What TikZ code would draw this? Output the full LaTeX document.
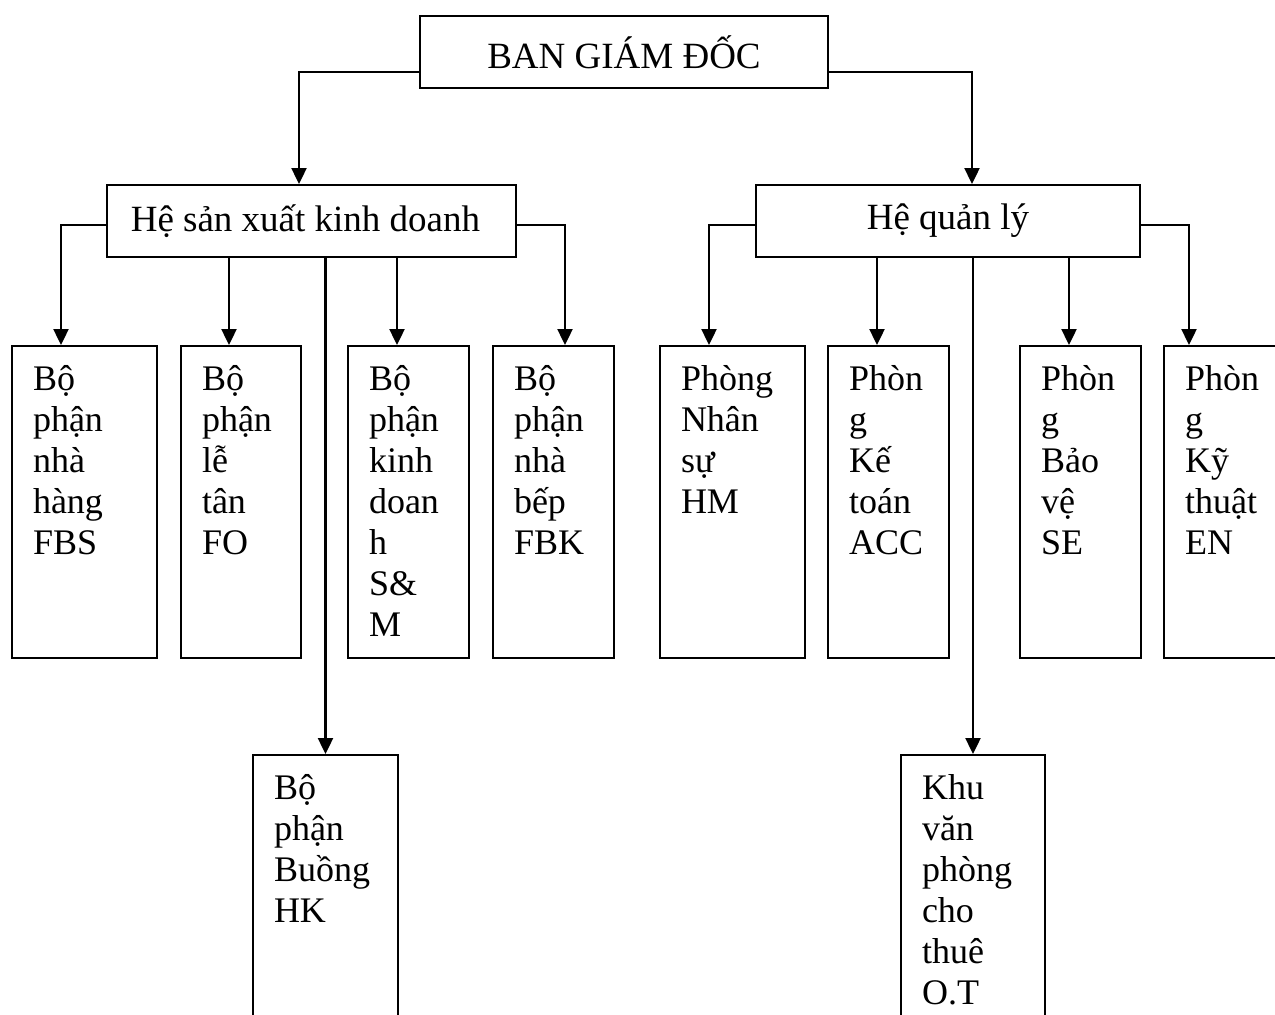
\documentclass[tikz,border=0pt]{standalone}
\usepackage{fontspec}
\setmainfont{Liberation Serif}
\usepackage{tikz}
\usetikzlibrary{arrows.meta,positioning}

\begin{document}
\begin{tikzpicture}[x=1pt, y=-1pt, line join=miter]
      \tikzstyle{head}=[rectangle,draw,line width=2pt,inner sep=0pt,minimum height=72pt,font=\fontsize{37}{41}\selectfont]
      \tikzstyle{unit}=[rectangle,draw,line width=2pt,anchor=north west,align=left,inner xsep=21pt,inner ysep=0pt,text height=44pt,text depth=268pt,font=\fontsize{36}{41}\selectfont]
      \tikzstyle{wide}=[unit,text width=103pt]
      \tikzstyle{narrow}=[unit,text width=79pt]
      \tikzstyle{arr}=[line width=2.4pt,-{Triangle[width=15pt,length=16pt]}]
      \useasboundingbox (0,0) rectangle (1275,1015);

      \node[head,minimum width=408pt] (bgd) at (624,52) {BAN GIÁM ĐỐC};
      \node[head,minimum width=409pt] (hsx) at (311.5,221) {\hspace{-12pt}Hệ sản xuất kinh doanh};
      \node[head,minimum width=384pt] (hql) at (948,221) {Hệ quản lý};

      \node[wide] (fbs) at (11,345) {Bộ\\phận\\nhà\\hàng\\FBS};
      \node[narrow,text width=78pt] (fo) at (180,345) {Bộ\\phận\\lễ\\tân\\FO};
      \node[narrow] (sm) at (347,345) {Bộ\\phận\\kinh\\doan\\h\\S\&\\M};
      \node[narrow] (fbk) at (492,345) {Bộ\\phận\\nhà\\bếp\\FBK};
      \node[wide] (hk) at (252,754) {Bộ\\phận\\Buồng\\HK};

      \node[wide] (hm) at (659,345) {Phòng\\Nhân\\sự\\HM};
      \node[narrow] (acc) at (827,345) {Phòn\\g\\Kế\\toán\\ACC};
      \node[narrow] (se) at (1019,345) {Phòn\\g\\Bảo\\vệ\\SE};
      \node[narrow] (en) at (1163,345) {Phòn\\g\\Kỹ\\thuật\\EN};
      \node[wide,text width=102pt] (ot) at (900,754) {Khu\\văn\\phòng\\cho\\thuê\\O.T};

      \coordinate (hsx-in) at ([xshift=-12.5pt]hsx.north);
      \coordinate (hql-in) at ([xshift=24pt]hql.north);
      \coordinate (fbs-in) at ([xshift=-23.5pt]fbs.north);
      \coordinate (fo-in) at ([xshift=-12pt]fo.north);
      \coordinate (hk-in) at (hk.north);
      \coordinate (sm-in) at ([xshift=-11.5pt]sm.north);
      \coordinate (fbk-in) at ([xshift=11.5pt]fbk.north);
      \coordinate (hm-in) at ([xshift=-23.5pt]hm.north);
      \coordinate (acc-in) at ([xshift=-11.5pt]acc.north);
      \coordinate (ot-in) at (ot.north);
      \coordinate (se-in) at ([xshift=-11.5pt]se.north);
      \coordinate (en-in) at ([xshift=-35.5pt]en.north);

      \draw[arr] ([yshift=-20pt]bgd.west) -| (hsx-in);
      \draw[arr] ([yshift=-20pt]bgd.east) -| (hql-in);

      \draw[arr] ([yshift=-4pt]hsx.west) -| (fbs-in);
      \draw[arr] (hsx.south -| fo-in) -- (fo-in);
      \draw[arr] (hsx.south -| hk-in) -- (hk-in);
      \draw[arr] (hsx.south -| sm-in) -- (sm-in);
      \draw[arr] ([yshift=-4pt]hsx.east) -| (fbk-in);

      \draw[arr] ([yshift=-4pt]hql.west) -| (hm-in);
      \draw[arr] (hql.south -| acc-in) -- (acc-in);
      \draw[arr] (hql.south -| ot-in) -- (ot-in);
      \draw[arr] (hql.south -| se-in) -- (se-in);
      \draw[arr] ([yshift=-4pt]hql.east) -| (en-in);

    \end{tikzpicture}
\end{document}
